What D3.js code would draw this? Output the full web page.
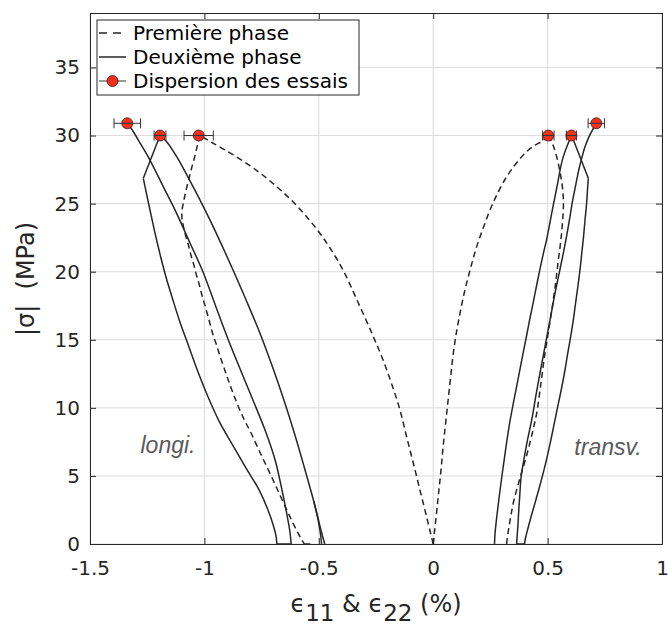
<!DOCTYPE html>
<html>
<head>
<meta charset="utf-8">
<script src="https://cdn.jsdelivr.net/npm/d3@7/dist/d3.min.js"></script>
<style>
  html, body { margin: 0; padding: 0; background: #fff; }
  svg { display: block; }
</style>
</head>
<body>
<svg id="chart" width="668" height="630"></svg>
<script>
// ---------------- data ----------------
const xTicks = [-1.5, -1, -0.5, 0, 0.5, 1];
const xTickLabels = ["-1.5", "-1", "-0.5", "0", "0.5", "1"];
const yTicks = [0, 5, 10, 15, 20, 25, 30, 35];
const yTickLabels = ["0", "5", "10", "15", "20", "25", "30", "35"];

const legendLabels = ["Première phase", "Deuxième phase", "Dispersion des essais"];

// Première phase (dashed) - longitudinal
const longiP1Load = [[0,0],[-0.0275,1.91],[-0.058,3.97],[-0.087,5.95],[-0.117,7.93],[-0.145,9.84],[-0.180,11.68],[-0.219,13.51],[-0.263,15.28],[-0.329,17.77],[-0.394,20.12],[-0.451,21.74],[-0.503,22.99],[-0.560,24.17],[-0.621,25.27],[-0.687,26.29],[-0.757,27.25],[-0.831,28.13],[-0.910,28.94],[-0.967,29.49],[-1.019,30.0]];
const longiP1Unload = [[-1.019,30.0],[-1.030,29.31],[-1.043,28.42],[-1.057,27.54],[-1.070,26.66],[-1.083,25.78],[-1.092,25.05],[-1.098,24.46],[-1.098,23.94],[-1.093,23.43],[-1.083,22.70],[-1.070,21.96],[-1.059,21.23],[-1.046,20.49],[-1.035,19.76],[-1.022,19.02],[-1.011,18.29],[-0.998,17.55],[-0.986,16.82],[-0.974,16.09],[-0.962,15.35],[-0.947,14.62],[-0.932,13.81],[-0.914,12.93],[-0.896,12.05],[-0.875,11.09],[-0.849,9.99],[-0.823,9.03],[-0.796,8.15],[-0.766,7.05],[-0.735,5.95],[-0.700,4.70],[-0.670,3.60],[-0.640,2.50],[-0.613,1.54],[-0.591,0.81],[-0.574,0.29],[-0.563,0]];
const longiP1Flat = [[-0.563,0],[-0.521,0]];

// Deuxième phase (solid) - longitudinal
const longiP2Load = [[-0.474,0],[-0.487,0.79],[-0.522,3.14],[-0.566,5.79],[-0.605,8.04],[-0.649,10.39],[-0.701,12.94],[-0.758,15.52],[-0.815,17.81],[-0.872,20.01],[-0.924,21.95],[-0.977,23.84],[-1.025,25.46],[-1.073,26.99],[-1.121,28.45],[-1.165,29.55],[-1.194,30.0]];
const longiP2LoadBis = [[-0.488,0],[-0.492,0.66],[-0.503,1.76],[-0.522,3.14]];
const longiP2UnloadTop = [[-1.194,30.0],[-1.267,26.86]];
const longiP2Unload = [[-1.267,26.86],[-1.251,25.56],[-1.233,24.16],[-1.214,22.70],[-1.192,21.15],[-1.168,19.61],[-1.139,18.0],[-1.107,16.31],[-1.069,14.54],[-1.028,12.63],[-0.984,10.80],[-0.936,9.03],[-0.879,7.34],[-0.818,5.58],[-0.761,3.97],[-0.722,2.50],[-0.698,1.32],[-0.687,0.59],[-0.683,0]];
const longiP2Flat = [[-0.683,0],[-0.620,0]];
const longiP2Reload = [[-0.620,0],[-0.621,0.07],[-0.626,0.88],[-0.639,2.13],[-0.661,3.97],[-0.691,6.17],[-0.735,8.37],[-0.788,10.58],[-0.842,12.78],[-0.897,15.06],[-0.951,17.48],[-1.006,19.98],[-1.063,22.11],[-1.124,24.38],[-1.181,26.29],[-1.238,28.2],[-1.281,29.45],[-1.321,30.55],[-1.338,30.92]];

// Première phase (dashed) - transverse
const transvP1Load = [[0,0],[0.0122,1.91],[0.0232,3.67],[0.0341,5.44],[0.045,7.42],[0.059,9.60],[0.0734,11.83],[0.0879,14.01],[0.1018,15.57],[0.1171,16.94],[0.1346,18.36],[0.1534,19.63],[0.1718,20.79],[0.1901,21.84],[0.2177,23.17],[0.2483,24.53],[0.2832,25.82],[0.3212,26.98],[0.3575,27.84],[0.3938,28.57],[0.4362,29.20],[0.4812,29.64],[0.5031,30.0]];
const transvP1Unload = [[0.5031,30.0],[0.5236,29.31],[0.5411,28.35],[0.5542,27.32],[0.5642,26.29],[0.5686,25.40],[0.5686,24.52],[0.5651,23.63],[0.5607,22.75],[0.5542,21.81],[0.5468,20.86],[0.5367,19.39],[0.5249,17.92],[0.5083,16.09],[0.4886,14.03],[0.4711,11.83],[0.4524,9.62],[0.4362,8.37],[0.4100,6.61],[0.3794,4.85],[0.3531,3.23],[0.3400,2.13],[0.3291,1.03],[0.3226,0.29],[0.3212,0]];

// Deuxième phase (solid) - transverse
const transvP2Load = [[0.2679,0],[0.2701,0.73],[0.2753,1.62],[0.2824,2.64],[0.2911,3.82],[0.3016,5.14],[0.3125,6.46],[0.3239,7.79],[0.3365,9.11],[0.3505,10.36],[0.3650,11.60],[0.3794,12.85],[0.3938,14.10],[0.4087,15.35],[0.4231,16.60],[0.4375,17.77],[0.4515,18.95],[0.4659,20.13],[0.4799,21.22],[0.4952,22.32],[0.5083,23.43],[0.5206,24.53],[0.5337,25.63],[0.5468,26.74],[0.5564,27.62],[0.5686,28.45],[0.5870,29.31],[0.6053,30.0]];
const transvP2UnloadTop = [[0.6053,30.0],[0.6779,26.86]];
const transvP2Unload = [[0.6779,26.86],[0.6744,26.02],[0.6700,24.92],[0.6635,23.80],[0.6569,22.55],[0.6495,21.38],[0.6416,20.13],[0.6320,18.88],[0.6224,17.70],[0.6123,16.45],[0.6005,15.20],[0.5883,14.03],[0.5760,12.78],[0.5621,11.53],[0.5476,10.36],[0.5323,9.11],[0.5170,7.86],[0.5017,6.68],[0.4843,5.44],[0.4646,4.19],[0.4449,3.01],[0.4274,1.98],[0.4134,1.10],[0.4034,0.44],[0.3990,0]];
const transvP2Flat = [[0.3990,0],[0.3649,0]];
const transvP2Reload = [[0.3649,0],[0.3663,0.44],[0.3698,1.25],[0.3741,2.50],[0.3785,3.60],[0.3837,4.85],[0.3960,6.17],[0.4122,7.64],[0.4305,9.11],[0.4493,10.94],[0.4668,12.56],[0.4886,14.49],[0.5105,16.45],[0.5323,18.41],[0.5507,19.90],[0.5686,21.35],[0.5839,22.70],[0.5979,24.04],[0.6066,24.97],[0.6167,25.85],[0.6272,26.74],[0.6372,27.54],[0.6495,28.36],[0.6635,29.17],[0.6788,29.83],[0.6963,30.41],[0.7146,30.90]];

// Dispersion des essais: x, y, half-width of error bar
const pointsX = [-1.337, -1.194, -1.025, 0.503, 0.604, 0.713];
const pointsY = [30.9, 30, 30, 30, 30, 30.9];
const pointsErr = [0.058, 0.026, 0.064, 0.025, 0.022, 0.036];

const dashedCurves = [longiP1Load, longiP1Unload, longiP1Flat, transvP1Load, transvP1Unload];
const solidCurves = [longiP2Load, longiP2LoadBis, longiP2UnloadTop, longiP2Unload, longiP2Flat, longiP2Reload,
                     transvP2Load, transvP2UnloadTop, transvP2Unload, transvP2Flat, transvP2Reload];

// ---------------- drawing ----------------
const AX = "#262626";
const svg = d3.select("#chart");
const xScale = d3.scaleLinear().domain([-1.5, 1]).range([90, 662]);
const yScale = d3.scaleLinear().domain([0, 39]).range([544, 13]);
const font = "'DejaVu Sans', sans-serif";

svg.append("defs").append("clipPath").attr("id", "clip")
  .append("rect").attr("x", 90).attr("y", 13).attr("width", 572).attr("height", 531);

// grid
const grid = svg.append("g");
grid.selectAll("line.gx").data(xTicks).join("line").attr("class", "gx")
  .attr("x1", d => xScale(d)).attr("x2", d => xScale(d)).attr("y1", yScale(0)).attr("y2", yScale(39))
  .attr("stroke", "#dcdcdc").attr("stroke-width", 1);
grid.selectAll("line.gy").data(yTicks).join("line").attr("class", "gy")
  .attr("y1", d => yScale(d)).attr("y2", d => yScale(d)).attr("x1", xScale(-1.5)).attr("x2", xScale(1))
  .attr("stroke", "#dcdcdc").attr("stroke-width", 1);

const smooth = d3.line().x(d => xScale(d[0])).y(d => yScale(d[1])).curve(d3.curveCatmullRom.alpha(0.5));
const plotG = svg.append("g").attr("clip-path", "url(#clip)");

plotG.selectAll("path.dash").data(dashedCurves).join("path").attr("class", "dash")
  .attr("d", smooth).attr("fill", "none").attr("stroke", "#262626")
  .attr("stroke-width", 1.5).attr("stroke-dasharray", "6,4");
plotG.selectAll("path.solid").data(solidCurves).join("path").attr("class", "solid")
  .attr("d", smooth).attr("fill", "none").attr("stroke", "#262626")
  .attr("stroke-width", 1.5);

// points + error bars
const pts = pointsX.map((v, i) => ({x: v, y: pointsY[i], e: pointsErr[i]}));
const pg = svg.append("g");
pg.selectAll("circle").data(pts).join("circle")
  .attr("cx", d => xScale(d.x)).attr("cy", d => yScale(d.y)).attr("r", 5.5)
  .attr("fill", "#f0301c").attr("stroke", "#3a1a14").attr("stroke-width", 0.8);
pg.selectAll("line.eb").data(pts).join("line").attr("class", "eb")
  .attr("x1", d => xScale(d.x - d.e)).attr("x2", d => xScale(d.x + d.e))
  .attr("y1", d => yScale(d.y)).attr("y2", d => yScale(d.y))
  .attr("stroke", "#333").attr("stroke-width", 1);
pg.selectAll("line.capl").data(pts).join("line").attr("class", "capl")
  .attr("x1", d => xScale(d.x - d.e)).attr("x2", d => xScale(d.x - d.e))
  .attr("y1", d => yScale(d.y) - 5).attr("y2", d => yScale(d.y) + 5)
  .attr("stroke", "#333").attr("stroke-width", 1);
pg.selectAll("line.capr").data(pts).join("line").attr("class", "capr")
  .attr("x1", d => xScale(d.x + d.e)).attr("x2", d => xScale(d.x + d.e))
  .attr("y1", d => yScale(d.y) - 5).attr("y2", d => yScale(d.y) + 5)
  .attr("stroke", "#333").attr("stroke-width", 1);

// axes (inward ticks, full box)
const tickLen = 6;
const gBottom = svg.append("g").attr("transform", `translate(0,${yScale(0)})`)
  .call(d3.axisBottom(xScale).tickValues(xTicks).tickSizeInner(-tickLen).tickSizeOuter(0).tickPadding(17)
    .tickFormat((d, i) => xTickLabels[i]));
const gTop = svg.append("g").attr("transform", `translate(0,${yScale(39)})`)
  .call(d3.axisTop(xScale).tickValues(xTicks).tickSizeInner(-tickLen).tickSizeOuter(0).tickFormat(""));
const gLeft = svg.append("g").attr("transform", `translate(${xScale(-1.5)},0)`)
  .call(d3.axisLeft(yScale).tickValues(yTicks).tickSizeInner(-tickLen).tickSizeOuter(0).tickPadding(10)
    .tickFormat((d, i) => yTickLabels[i]));
const gRight = svg.append("g").attr("transform", `translate(${xScale(1)},0)`)
  .call(d3.axisRight(yScale).tickValues(yTicks).tickSizeInner(-tickLen).tickSizeOuter(0).tickFormat(""));
[gBottom, gTop, gLeft, gRight].forEach(g => {
  g.select(".domain").attr("stroke", AX).attr("stroke-width", 1);
  g.selectAll(".tick line").attr("stroke", AX).attr("stroke-width", 1);
  g.selectAll(".tick text").attr("fill", AX).style("font-family", font).style("font-size", "20px");
});

// annotations
svg.append("text").attr("x", 168).attr("y", 453).attr("text-anchor", "middle")
  .style("font-family", "'Liberation Sans', sans-serif").style("font-style", "italic").style("font-size", "23px")
  .attr("fill", "#5a5a5a").text("longi.");
svg.append("text").attr("x", 608).attr("y", 455).attr("text-anchor", "middle")
  .style("font-family", "'Liberation Sans', sans-serif").style("font-style", "italic").style("font-size", "23px")
  .attr("fill", "#5a5a5a").text("transv.");

// axis labels
svg.append("text").attr("transform", "translate(34,279) rotate(-90)").attr("text-anchor", "middle")
  .style("font-family", font).style("font-size", "24px").style("white-space", "pre")
  .attr("fill", AX).text("|σ|  (MPa)");
const xl = svg.append("text").attr("x", 376).attr("y", 612).attr("text-anchor", "middle")
  .style("font-family", font).style("font-size", "24px").attr("fill", AX);
xl.append("tspan").text("ϵ");
xl.append("tspan").attr("dy", 9).style("font-size", "23px").text("11");
xl.append("tspan").attr("dy", -9).text(" & ϵ");
xl.append("tspan").attr("dy", 9).style("font-size", "23px").text("22");
xl.append("tspan").attr("dy", -9).text(" (%)");

// legend
const lg = svg.append("g");
lg.append("rect").attr("x", 97).attr("y", 20).attr("width", 262).attr("height", 75)
  .attr("fill", "#fff").attr("stroke", AX).attr("stroke-width", 1);
const rowsY = [33, 57, 81];
lg.append("line").attr("x1", 99).attr("x2", 126).attr("y1", rowsY[0]).attr("y2", rowsY[0])
  .attr("stroke", "#262626").attr("stroke-width", 1.5).attr("stroke-dasharray", "8,6");
lg.append("line").attr("x1", 99).attr("x2", 126).attr("y1", rowsY[1]).attr("y2", rowsY[1])
  .attr("stroke", "#262626").attr("stroke-width", 1.5);
lg.append("line").attr("x1", 99).attr("x2", 126).attr("y1", rowsY[2]).attr("y2", rowsY[2])
  .attr("stroke", "#333").attr("stroke-width", 1);
lg.append("circle").attr("cx", 112.5).attr("cy", rowsY[2]).attr("r", 5.5)
  .attr("fill", "#f0301c").attr("stroke", "#3a1a14").attr("stroke-width", 0.8);
lg.selectAll("text").data(legendLabels).join("text")
  .attr("x", 133).attr("y", (d, i) => rowsY[i]).attr("dy", "0.35em")
  .style("font-family", font).style("font-size", "20px").attr("fill", "#000").text(d => d);
</script>
</body>
</html>
